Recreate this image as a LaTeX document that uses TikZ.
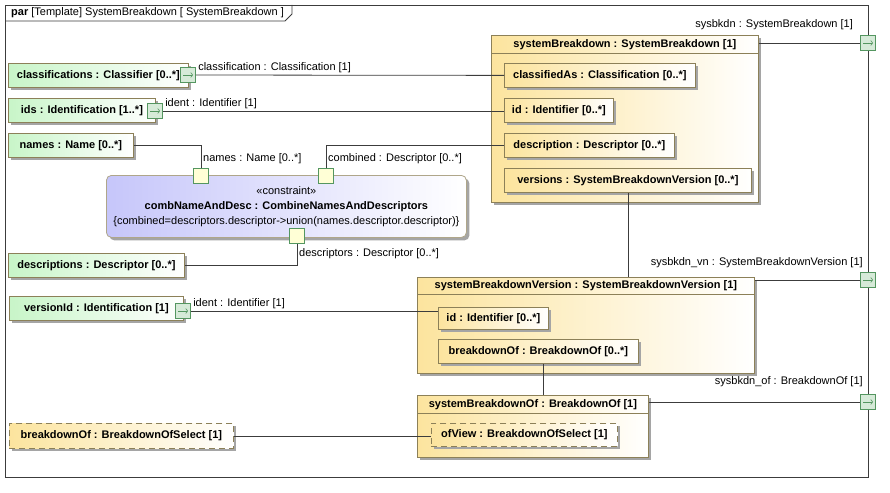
\documentclass[tikz,border=0pt]{standalone}
\usepackage{fontspec}
\setmainfont{Liberation Sans}
\usetikzlibrary{calc,positioning,shadows,arrows.meta}
\definecolor{boxline}{RGB}{140,128,88}
\definecolor{wirecol}{RGB}{60,60,60}
\definecolor{greenfill}{RGB}{200,245,200}
\definecolor{yellowfill}{RGB}{252,228,158}
\definecolor{bluefill}{RGB}{198,198,250}
\definecolor{portline}{RGB}{84,150,96}
\definecolor{portfill}{RGB}{214,234,216}
\definecolor{cportfill}{RGB}{255,255,214}
\definecolor{shadowgray}{RGB}{165,165,165}
\newcommand{\dfont}{\fontsize{11}{13}\selectfont}
\tikzset{
  wire/.style={draw=wirecol, line width=0.8pt},
  plabel/.style={font=\dfont, inner sep=2pt},
  part/.style={draw=boxline, line width=0.8pt, anchor=north west, minimum height=24, inner xsep=5pt,
    font=\dfont\bfseries, left color=#1, right color=white,
    drop shadow={shadow xshift=3pt, shadow yshift=-3pt, fill=shadowgray, opacity=1}},
  dashedpart/.style={part=#1, dash pattern=on 6pt off 4pt},
  block/.style={part=yellowfill, minimum height=#1},
  title/.style={font=\dfont\bfseries, anchor=north, minimum height=18, inner sep=0pt},
  port/.style={draw=portline, line width=0.8pt, fill=portfill, minimum size=15, inner sep=0pt,
    path picture={\draw[portline, line width=0.6pt, -{To[length=2.5pt]}]
      ([xshift=-5pt]path picture bounding box.center) -- ([xshift=5pt]path picture bounding box.center);}},
  cport/.style={draw=portline, line width=0.8pt, fill=cportfill, minimum size=15, inner sep=0pt},
  constr/.style={draw=boxline!70, line width=0.8pt, anchor=north west, rounded corners=5pt, align=center,
    font=\dfont, left color=bluefill, right color=white,
    drop shadow={shadow xshift=3pt, shadow yshift=-3pt, fill=shadowgray, opacity=1}}
}
\begin{document}
\begin{tikzpicture}[x=1pt, y=-1pt]
\useasboundingbox (0,0) rectangle (890,492);
% frame
\node[draw=wirecol, line width=0.8pt, minimum width=863, minimum height=472, anchor=north west] (frame) at (5,5) {};
\node[plabel, anchor=west] (hdr) at (9,13) {\textbf{par} [Template] SystemBreakdown [ SystemBreakdown ]};
\draw[wirecol, line width=0.8pt] (5,21) -- (285,21) -- (292,14) -- (292,5);

% left side parts
\node[part=greenfill, minimum width=180] (cls) at (8,63) {classifications : Classifier [0..*]};
\node[part=greenfill, minimum width=147] (ids) at (8,98) {ids : Identification [1..*]};
\node[part=greenfill, minimum width=125] (names) at (8,133) {names : Name [0..*]};
\node[part=greenfill, minimum width=176] (descr) at (8,253) {descriptions : Descriptor [0..*]};
\node[part=greenfill, minimum width=174] (verId) at (9,296) {versionId : Identification [1]};
\node[dashedpart=yellowfill, minimum width=224, minimum height=25] (bo) at (9,423) {breakdownOf : BreakdownOfSelect [1]};
\node[port] (pCls) at (188,75) {};
\node[port] (pIds) at (155,111) {};
\node[port] (pVer) at (183,311) {};

% constraint
\node[constr, minimum width=360, minimum height=62] (cc) at (106,175)
  {\guillemotleft constraint\guillemotright\\[2pt]
   \textbf{combNameAndDesc : CombineNamesAndDescriptors}\\[2pt]
   \{combined=descriptors.descriptor->union(names.descriptor.descriptor)\}};
\node[cport] (cpNames) at (201,176) {};
\node[cport] (cpComb) at (326,176) {};
\node[cport] (cpDesc) at (297,236) {};

% systemBreakdown
\node[block=167, minimum width=267] (sb) at (491,35) {};
\node[title] (sbT) at (sb.north) {systemBreakdown : SystemBreakdown [1]};
\draw[boxline, line width=0.8pt] (sbT.south -| sb.west) -- (sbT.south -| sb.east);
\node[part=yellowfill, minimum width=191] (sbCls) at (504,63) {classifiedAs : Classification [0..*]};
\node[part=yellowfill, minimum width=109] (sbId) at (504,98) {id : Identifier [0..*]};
\node[part=yellowfill, minimum width=170] (sbDesc) at (504,133) {description : Descriptor [0..*]};
\node[part=yellowfill, minimum width=247] (sbVers) at (504,168) {versions : SystemBreakdownVersion [0..*]};

% systemBreakdownVersion
\node[block=96, minimum width=337] (sbv) at (417,277) {};
\node[title, minimum height=17] (sbvT) at (sbv.north) {systemBreakdownVersion : SystemBreakdownVersion [1]};
\draw[boxline, line width=0.8pt] (sbvT.south -| sbv.west) -- (sbvT.south -| sbv.east);
\node[part=yellowfill, minimum width=110, minimum height=22] (svId) at (438,307) {id : Identifier [0..*]};
\node[part=yellowfill, minimum width=200] (svBo) at (438,339) {breakdownOf : BreakdownOf [0..*]};

% systemBreakdownOf
\node[block=62, minimum width=231] (sbo) at (417,395) {};
\node[title] (sboT) at (sbo.north) {systemBreakdownOf : BreakdownOf [1]};
\draw[boxline, line width=0.8pt] (sboT.south -| sbo.west) -- (sboT.south -| sbo.east);
\node[dashedpart=yellowfill, minimum width=186, minimum height=23] (ofView) at (431,423) {ofView : BreakdownOfSelect [1]};

% boundary ports
\node[port] (pSb) at (868,43) {};
\node[port] (pSbv) at (868,280) {};
\node[port] (pSbo) at (868,402) {};

% connectors
\draw[wire] (pCls.east) -- (sbCls.west) node[pos=0, above right, plabel] {classification : Classification [1]};
\draw[wire] (pIds.east) -- (pIds.east -| sbId.west) node[pos=0, above right, plabel] {ident : Identifier [1]};
\draw[wire] (names.east) -| (cpNames.north);
\draw[wire] (cpComb.north) |- (sbDesc.west);
\draw[wire] (cpDesc.south) |- (descr.east);
\node[plabel, anchor=south west] at ([yshift=2pt]cpNames.north) {names : Name [0..*]};
\node[plabel, anchor=south west] at ([yshift=2pt]cpComb.north) {combined : Descriptor [0..*]};
\node[plabel, anchor=north west] at ([yshift=-2pt]cpDesc.south) {descriptors : Descriptor [0..*]};
\draw[wire] (pVer.east) -- (pVer.east -| svId.west) node[pos=0, above right, plabel] {ident : Identifier [1]};
\draw[wire] (bo.east) -- (bo.east -| ofView.west);
\draw[wire] (sbVers.south) -- (sbVers.south |- sbv.north);
\draw[wire] ([xshift=5pt]svBo.south) -- ([xshift=5pt]svBo.south |- sbo.north);
\draw[wire] (pSb.west -| sb.east) -- (pSb.west);
\draw[wire] (pSbv.west -| sbv.east) -- (pSbv.west);
\draw[wire] (pSbo.west -| sbo.east) -- (pSbo.west);
\node[plabel, anchor=south east] at ([xshift=-5pt, yshift=3pt]pSb.north west) {sysbkdn : SystemBreakdown [1]};
\node[plabel, anchor=south east] at ([xshift=-11pt, yshift=2pt]pSbv.north east) {sysbkdn\_vn : SystemBreakdownVersion [1]};
\node[plabel, anchor=south east] at ([xshift=-11pt, yshift=5pt]pSbo.north east) {sysbkdn\_of : BreakdownOf [1]};
\end{tikzpicture}
\end{document}
